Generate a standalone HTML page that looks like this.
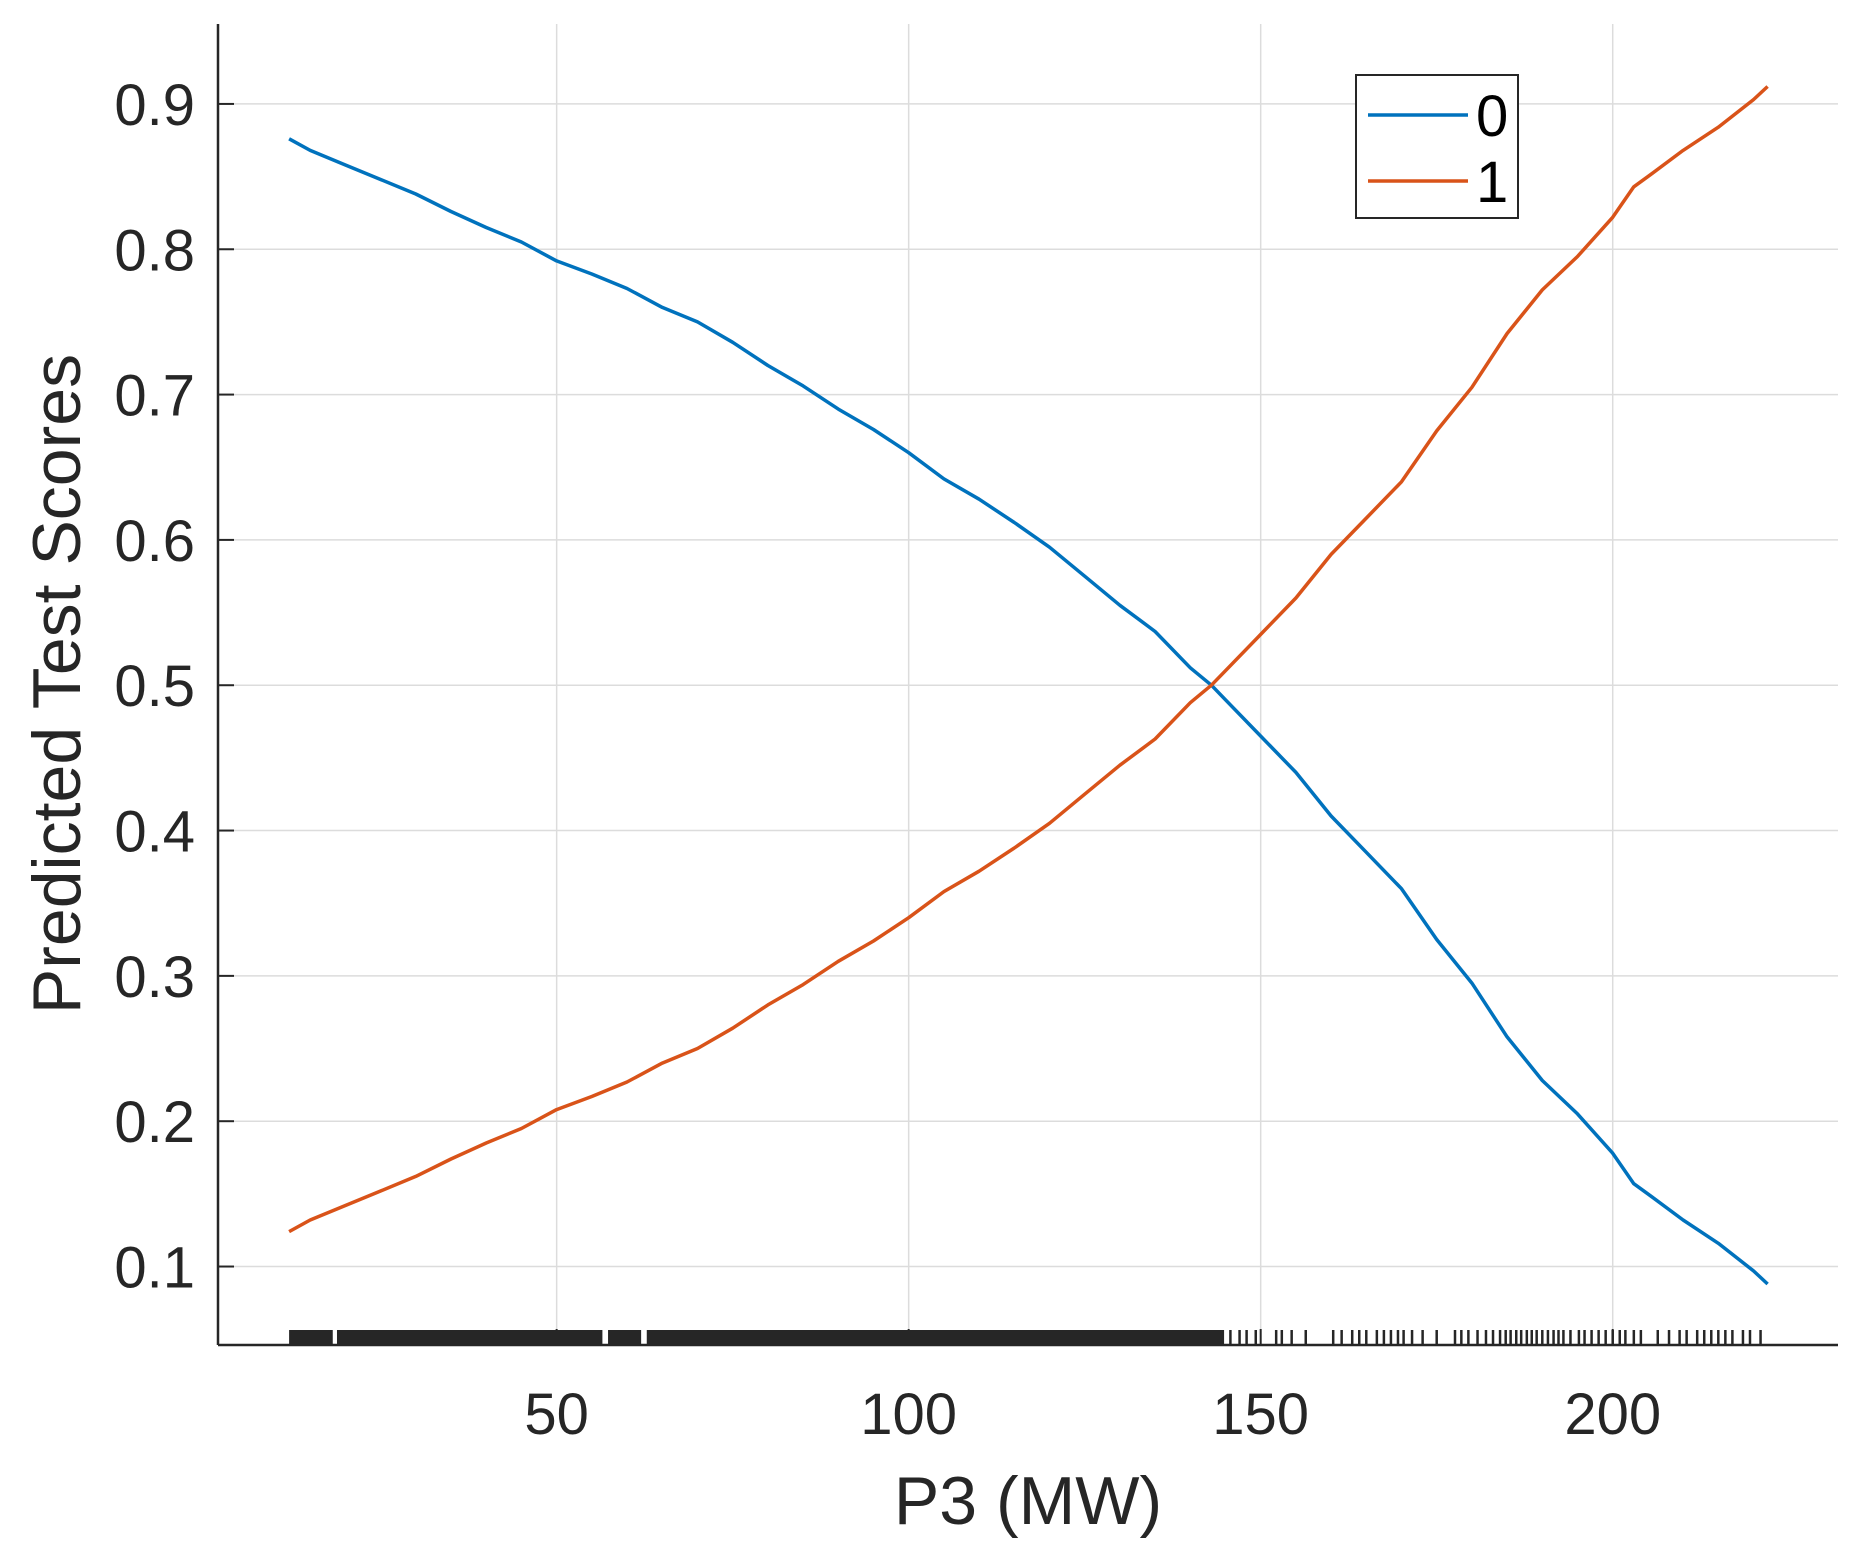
<!DOCTYPE html>
<html><head><meta charset="utf-8"><style>
body{margin:0;background:#fff}
svg{display:block;font-family:"Liberation Sans",Arial,sans-serif}
</style></head><body>
<svg id="chart" width="1856" height="1541" viewBox="0 0 1856 1541">
<g id="grid"></g>
<g id="rug"></g>
<g id="series"></g>
<g id="axes"></g>
<text x="0" y="0" transform="translate(80,684) rotate(-90)" text-anchor="middle" font-size="68" fill="#262626">Predicted Test Scores</text>
<text x="1028" y="1524" text-anchor="middle" font-size="68" fill="#262626">P3 (MW)</text>
<g>
<rect x="1356" y="75" width="162" height="143" fill="#fff" stroke="#262626" stroke-width="2"/>
<line x1="1368" y1="115" x2="1468" y2="115" stroke="#0072BD" stroke-width="3.5"/>
<text x="1476" y="136" font-size="58" fill="#000">0</text>
<line x1="1368" y1="181" x2="1468" y2="181" stroke="#D95319" stroke-width="3.5"/>
<text x="1476" y="202" font-size="58" fill="#000">1</text>
</g>
</svg>
<script>
const xs = [12,15,20,25,30,35,40,45,50,55,60,65,70,75,80,85,90,95,100,105,110,115,120,125,130,135,140,143,145,150,155,160,165,170,175,180,185,190,195,200,203,205,210,215,220,222];
const class0 = [0.876,0.868,0.858,0.848,0.838,0.826,0.815,0.805,0.792,0.783,0.773,0.760,0.750,0.736,0.720,0.706,0.690,0.676,0.660,0.642,0.628,0.612,0.595,0.575,0.555,0.537,0.512,0.500,0.490,0.465,0.440,0.410,0.385,0.360,0.325,0.295,0.258,0.228,0.205,0.178,0.157,0.150,0.132,0.116,0.097,0.088];
const class1 = [0.124,0.132,0.142,0.152,0.162,0.174,0.185,0.195,0.208,0.217,0.227,0.240,0.250,0.264,0.280,0.294,0.310,0.324,0.340,0.358,0.372,0.388,0.405,0.425,0.445,0.463,0.488,0.500,0.510,0.535,0.560,0.590,0.615,0.640,0.675,0.705,0.742,0.772,0.795,0.822,0.843,0.850,0.868,0.884,0.903,0.912];
const xTicks = [50,100,150,200];
const yTicks = [0.1,0.2,0.3,0.4,0.5,0.6,0.7,0.8,0.9];
const yTickLabels = ["0.1","0.2","0.3","0.4","0.5","0.6","0.7","0.8","0.9"];
const rugDense = [[12,18.2],[18.8,56.5],[57.3,62],[62.8,144.8]];
const rugSparse = [145.7,147,148,149.3,152.2,153,154.4,156.4,160.3,161.5,163,164,165,166.5,167.5,168.5,169.5,170.3,171.5,173,175,177.6,178.5,179.5,180.8,182,183,184,184.8,185.5,186.3,187,187.8,188.5,189.2,190,190.8,191.6,192.3,193,194,195.2,196,197,198,199,200,201,201.8,203,204,206.4,208,209.5,210.5,212,213,214,215,216,217,218.5,219.5,221];
const NS="http://www.w3.org/2000/svg";
const L=218,R=1838,T=24,B=1345;
const X0=1.9,X1=232,Y0=0.046,Y1=0.955;
function sx(v){return L+(v-X0)/(X1-X0)*(R-L);}
function sy(v){return B-(v-Y0)/(Y1-Y0)*(B-T);}
function mk(t,a,p){const e=document.createElementNS(NS,t);for(const k in a)e.setAttribute(k,a[k]);p.appendChild(e);return e;}
const grid=document.getElementById('grid'),axes=document.getElementById('axes'),rug=document.getElementById('rug'),ser=document.getElementById('series');
xTicks.forEach(v=>{
 const g=mk('line',{x1:sx(v),x2:sx(v),y1:T,y2:B,stroke:'#dcdcdc','stroke-width':1.5},grid);
 
 
 const tk=mk('line',{x1:sx(v),x2:sx(v),y1:B,y2:B-16,stroke:'#262626','stroke-width':2},axes);
 
 
 const t=mk('text',{x:sx(v),y:1434,'text-anchor':'middle','font-size':58,fill:'#262626'},axes);
 t.textContent=v;
 
 
});
yTicks.forEach((v,i)=>{
 const g=mk('line',{x1:L,x2:R,y1:sy(v),y2:sy(v),stroke:'#dcdcdc','stroke-width':1.5},grid);
 
 
 const tk=mk('line',{x1:L,x2:L+16,y1:sy(v),y2:sy(v),stroke:'#262626','stroke-width':2},axes);
 
 
 const t=mk('text',{x:195,y:sy(v)+21,'text-anchor':'end','font-size':58,fill:'#262626'},axes);
 t.textContent=yTickLabels[i];
 
 
});
rugDense.forEach(r=>{
 const e=mk('rect',{x:sx(r[0]),y:1330,width:sx(r[1])-sx(r[0]),height:B-1330,fill:'#262626'},rug);
 
 
});
rugSparse.forEach(v=>{
 const e=mk('line',{x1:sx(v),x2:sx(v),y1:1330,y2:B,stroke:'#262626','stroke-width':2.5},rug);
 
 
});
function line(vals,color,name){
 const d=xs.map((x,i)=>(i?'L':'M')+sx(x).toFixed(1)+','+sy(vals[i]).toFixed(1)).join('');
 const p=mk('path',{d:d,fill:'none',stroke:color,'stroke-width':3.5,'stroke-linejoin':'round'},ser);
 
 
}
line(class0,'#0072BD','line-class-0');
line(class1,'#D95319','line-class-1');
const ya=mk('line',{x1:L,x2:L,y1:T,y2:B,stroke:'#262626','stroke-width':2.5},axes);


const xa=mk('line',{x1:L,x2:R,y1:B,y2:B,stroke:'#262626','stroke-width':2.5},axes);


</script>
</body></html>
